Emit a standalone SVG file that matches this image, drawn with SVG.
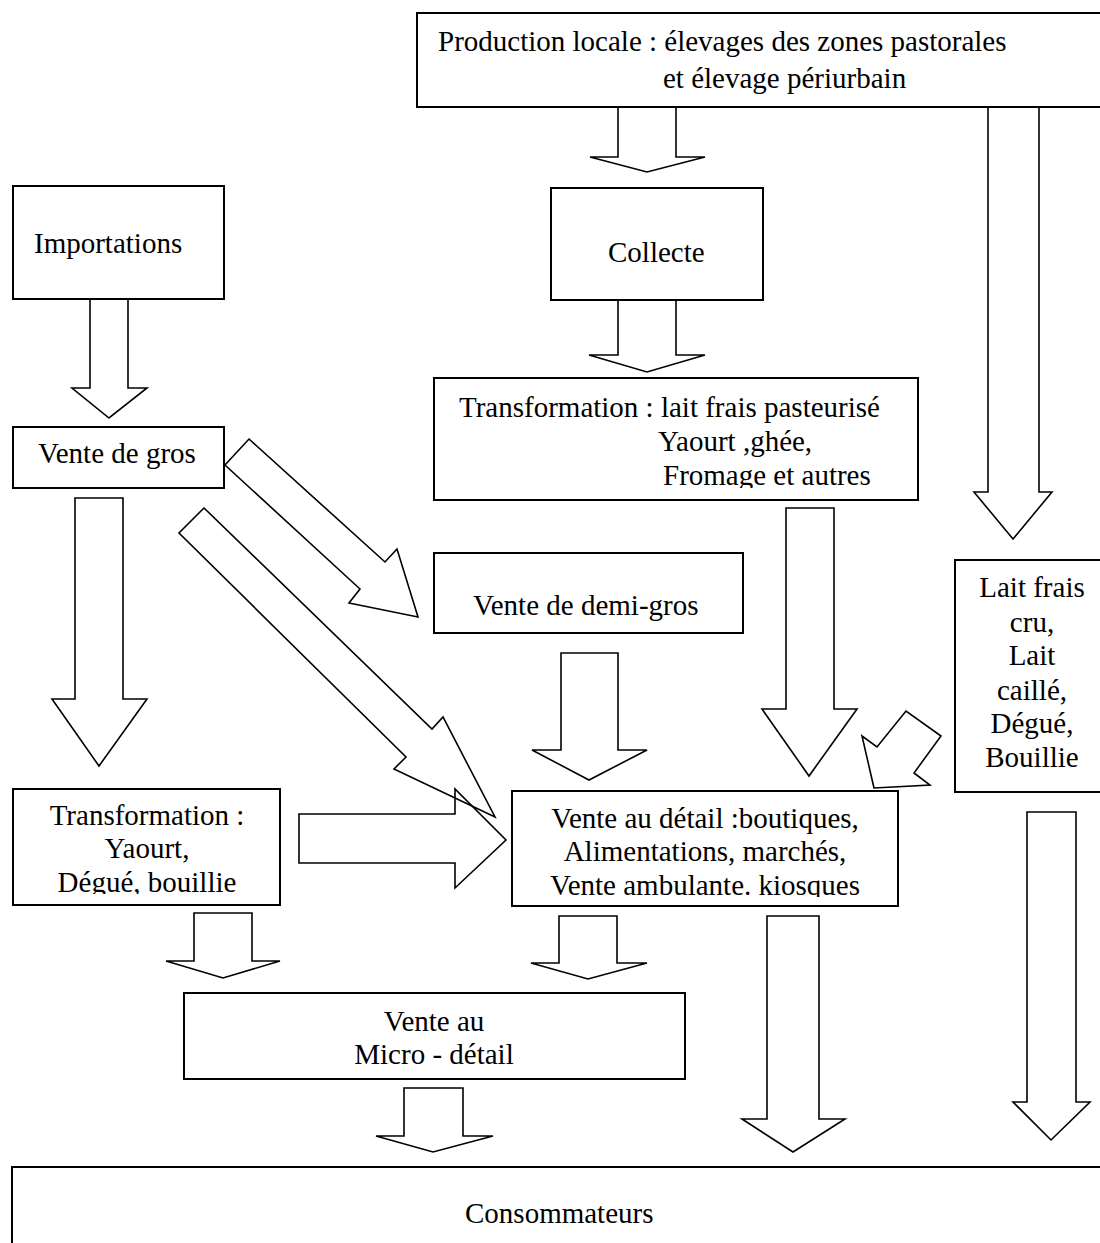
<svg xmlns="http://www.w3.org/2000/svg" width="1100" height="1243" viewBox="0 0 1100 1243">
<style>
.box{fill:none;stroke:#000;stroke-width:2}
.arr{fill:none;stroke:#000;stroke-width:1.6;stroke-linejoin:miter}
text{font-family:"Liberation Serif","Times New Roman",serif;font-size:29px;fill:#000}
.c{text-anchor:middle}
</style>
<defs>
<clipPath id="clipT1"><rect x="434" y="378" width="484" height="110"/></clipPath>
<clipPath id="clipT2"><rect x="13" y="789" width="267" height="105"/></clipPath>
<clipPath id="clipVD"><rect x="512" y="791" width="386" height="106"/></clipPath>
</defs>
<rect width="1100" height="1243" fill="#fff"/>
<g id="connectors">
<polyline class="arr" points="618,107 618,157 590,157 647,172 705,157 676,157 676,107"/>
<polyline class="arr" points="618,301 618,355 589,355 647,372 705,355 676,355 676,301"/>
<polyline class="arr" points="90,299 90,388 72,388 109,418 147,388 128,388 128,299"/>
<polygon class="arr" points="75,498 75,699 52,699 99,766 147,699 123,699 123,498"/>
<polygon class="arr" points="249,439 385,562 397,549 418,617 349,603 360,589 225,465"/>
<polygon class="arr" points="204,508 432,729 443,717 495,817 394,769 406,757 179,533"/>
<polygon class="arr" points="299,814 455,814 455,789 506,840 455,888 455,863 299,863"/>
<polygon class="arr" points="786,508 786,709 762,709 809,776 857,709 834,709 834,508"/>
<polygon class="arr" points="561,653 561,750 532,750 589,780 647,750 618,750 618,653"/>
<polygon class="arr" points="874,788 862,736 877,747 906,711 941,736 914,773 930,785"/>
<polyline class="arr" points="988,107 988,492 974,492 1013,539 1052,492 1039,492 1039,107"/>
<polygon class="arr" points="559,916 559,963 531,963 588,979 647,963 617,963 617,916"/>
<polygon class="arr" points="767,916 767,1119 742,1119 793,1152 845,1119 819,1119 819,916"/>
<polygon class="arr" points="194,913 194,961 166,961 223,978 280,961 252,961 252,913"/>
<polygon class="arr" points="404,1088 404,1136 376,1136 433,1152 493,1136 463,1136 463,1088"/>
<polygon class="arr" points="1027,812 1027,1102 1013,1102 1051,1140 1090,1102 1076,1102 1076,812"/>
</g>
<g id="production">
<rect class="box" x="417" y="13" width="700" height="94"/>
<text x="438" y="51">Production locale : élevages des zones pastorales</text>
<text x="663" y="88">et élevage périurbain</text>
</g>
<g id="importations">
<rect class="box" x="13" y="186" width="211" height="113"/>
<text x="34" y="253">Importations</text>
</g>
<g id="collecte">
<rect class="box" x="551" y="188" width="212" height="112"/>
<text x="608" y="262">Collecte</text>
</g>
<g id="vente-gros">
<rect class="box" x="13" y="427" width="211" height="61"/>
<text x="38" y="463">Vente de gros</text>
</g>
<g id="transformation-locale">
<rect class="box" x="434" y="378" width="484" height="122"/>
<g clip-path="url(#clipT1)">
<text x="459" y="417">Transformation : lait frais pasteurisé</text>
<text x="658" y="451">Yaourt ,ghée,</text>
<text x="663" y="485">Fromage et autres</text>
</g>
</g>
<g id="vente-demi-gros">
<rect class="box" x="434" y="553" width="309" height="80"/>
<text x="473" y="615">Vente de demi-gros</text>
</g>
<g id="lait-frais">
<rect class="box" x="955" y="560" width="160" height="232"/>
<text class="c" x="1032" y="597">Lait frais</text>
<text class="c" x="1032" y="632">cru,</text>
<text class="c" x="1032" y="665">Lait</text>
<text class="c" x="1032" y="700">caillé,</text>
<text class="c" x="1032" y="733">Dégué,</text>
<text class="c" x="1032" y="767">Bouillie</text>
</g>
<g id="transformation-import">
<rect class="box" x="13" y="789" width="267" height="116"/>
<g clip-path="url(#clipT2)">
<text class="c" x="147" y="825">Transformation :</text>
<text class="c" x="147" y="858">Yaourt,</text>
<text class="c" x="147" y="892">Dégué, bouillie</text>
</g>
</g>
<g id="vente-detail">
<rect class="box" x="512" y="791" width="386" height="115"/>
<g clip-path="url(#clipVD)">
<text class="c" x="705" y="828">Vente au détail :boutiques,</text>
<text class="c" x="705" y="861">Alimentations, marchés,</text>
<text class="c" x="705" y="895">Vente ambulante. kiosques</text>
</g>
</g>
<g id="micro-detail">
<rect class="box" x="184" y="993" width="501" height="86"/>
<text class="c" x="434" y="1031">Vente au</text>
<text class="c" x="434" y="1064">Micro - détail</text>
</g>
<g id="consommateurs">
<rect class="box" x="12" y="1167" width="1110" height="100"/>
<text x="465" y="1223">Consommateurs</text>
</g>
</svg>
